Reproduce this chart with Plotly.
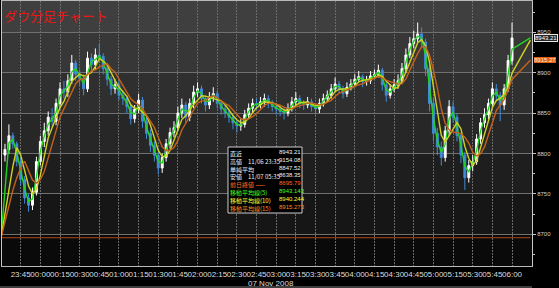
import pandas as pd
import plotly.graph_objects as go

# ---------------- data ----------------
prev_close = 8695.79
first_open = 8798
closes = [8805, 8822, 8812, 8790, 8768, 8745, 8736, 8752, 8790, 8815,
          8828, 8845, 8840, 8862, 8880, 8876, 8890, 8912, 8898, 8893,
          8880, 8918, 8910, 8922, 8920, 8905, 8892, 8880, 8885, 8872,
          8868, 8858, 8843, 8855, 8866, 8840, 8825, 8810, 8798, 8782,
          8795, 8812, 8826, 8832, 8850, 8860, 8845, 8862, 8876, 8880,
          8868, 8860, 8870, 8874, 8862, 8855, 8850, 8845, 8838, 8834,
          8836, 8848, 8856, 8862, 8860, 8864, 8868, 8862, 8858, 8855,
          8852, 8850, 8856, 8864, 8868, 8862, 8860, 8864, 8858, 8855,
          8862, 8868, 8872, 8880, 8886, 8880, 8874, 8882, 8886, 8892,
          8895, 8889, 8890, 8896, 8898, 8903, 8885, 8872, 8880, 8885,
          8890, 8905, 8922, 8936, 8942, 8948, 8938, 8905, 8862, 8825,
          8808, 8795, 8828, 8858, 8845, 8822, 8798, 8770, 8785, 8790,
          8818, 8838, 8848, 8862, 8880, 8872, 8860, 8880, 8915, 8943]
highs = [8812, 8836, 8826, 8815, 8795, 8772, 8750, 8758, 8796, 8822,
         8838, 8852, 8856, 8868, 8888, 8890, 8898, 8922, 8916, 8904,
         8898, 8926, 8924, 8930, 8936, 8924, 8910, 8896, 8892, 8890,
         8878, 8872, 8862, 8860, 8874, 8870, 8846, 8830, 8815, 8802,
         8800, 8818, 8832, 8840, 8858, 8868, 8864, 8868, 8884, 8888,
         8884, 8872, 8876, 8882, 8878, 8866, 8860, 8856, 8850, 8842,
         8844, 8854, 8862, 8868, 8868, 8870, 8874, 8872, 8866, 8862,
         8860, 8858, 8862, 8870, 8876, 8872, 8866, 8870, 8868, 8862,
         8868, 8874, 8878, 8886, 8894, 8890, 8884, 8888, 8892, 8898,
         8902, 8898, 8896, 8902, 8904, 8910, 8906, 8888, 8886, 8892,
         8898, 8912, 8930, 8944, 8952, 8962, 8956, 8942, 8910, 8868,
         8832, 8815, 8834, 8866, 8864, 8850, 8826, 8802, 8792, 8798,
         8824, 8844, 8856, 8868, 8888, 8886, 8876, 8886, 8922, 8962]
lows = [8790, 8800, 8806, 8784, 8760, 8738, 8728, 8730, 8748, 8785,
        8808, 8822, 8832, 8835, 8856, 8868, 8870, 8886, 8890, 8884,
        8872, 8876, 8902, 8904, 8912, 8898, 8884, 8872, 8874, 8866,
        8860, 8850, 8836, 8838, 8850, 8832, 8818, 8802, 8790, 8774,
        8776, 8790, 8806, 8820, 8828, 8844, 8838, 8840, 8856, 8870,
        8862, 8852, 8855, 8864, 8856, 8848, 8844, 8838, 8830, 8826,
        8828, 8832, 8844, 8850, 8854, 8856, 8858, 8856, 8852, 8848,
        8846, 8842, 8846, 8852, 8860, 8856, 8854, 8856, 8852, 8848,
        8850, 8858, 8864, 8868, 8876, 8874, 8868, 8870, 8878, 8882,
        8888, 8882, 8884, 8886, 8892, 8894, 8878, 8864, 8868, 8876,
        8880, 8886, 8900, 8918, 8930, 8938, 8930, 8896, 8852, 8815,
        8798, 8785, 8790, 8822, 8838, 8815, 8788, 8755, 8764, 8778,
        8786, 8812, 8832, 8842, 8856, 8866, 8840, 8854, 8876, 8910]
opens = [first_open] + closes[:-1]

session_open = "2008-11-07 23:30"
times = pd.date_range("2008-11-07 23:33", periods=len(closes), freq="3min")
end_time = "2008-11-08 06:14"
x_ticks = pd.date_range("2008-11-07 23:45", "2008-11-08 06:00", freq="15min")

ma_names = ["移動平均線(5)", "移動平均線(10)", "移動平均線(15)"]
ma_windows = [2, 4, 6]          # 3-minute bars
ma_final = [8943.143, 8940.244, 8915.273]
ma_colors = ["#22d422", "#cdd41e", "#c4621c"]

y_ticks = [8700, 8750, 8800, 8850, 8900, 8950]
band_edges = [8600, 8700, 8750, 8800, 8850, 8900, 8950, 9050]
band_colors = ["#0a0a0a", "#161616", "#1e1e1e", "#272727", "#2f2f2f", "#373737", "#3f3f3f"]

summary_labels = ["直近", "高値　11/06 23:35", "単純平均", "安値　11/07 05:35",
                  "前日終値 ——", "移動平均線(5)", "移動平均線(10)", "移動平均線(15)"]
summary_values = ["8943.21", "9154.08", "8847.52", "8638.35",
                  "8695.79", "8943.143", "8940.244", "8915.273"]
summary_colors = ["#f0f0f0", "#f0f0f0", "#f0f0f0", "#f0f0f0",
                  "#ff6a22", "#44ff22", "#ffff33", "#ff8a22"]


def sma(vals, n, pad):
    padded = [pad] * (n - 1) + list(vals)
    return [sum(padded[i:i + n]) / n for i in range(len(vals))]


fig = go.Figure()

# previous close line
fig.add_trace(go.Scatter(x=[session_open, end_time], y=[prev_close, prev_close],
                         mode="lines", line=dict(color="#b0481a", width=1),
                         hoverinfo="skip", showlegend=False))

fig.add_trace(go.Candlestick(
    x=times, open=opens, high=highs, low=lows, close=closes,
    increasing=dict(line=dict(color="#ffffff", width=1), fillcolor="#ffffff"),
    decreasing=dict(line=dict(color="#3f8cd8", width=1), fillcolor="#3f8cd8"),
    whiskerwidth=0, showlegend=False))

for name, w, fin, col in zip(ma_names, ma_windows, ma_final, ma_colors):
    xs = [session_open] + list(times) + [end_time]
    ys = [prev_close] + sma(closes, w, prev_close) + [fin]
    fig.add_trace(go.Scatter(x=xs, y=ys, mode="lines", name=name,
                             line=dict(color=col, width=1.4), showlegend=False))

# background bands
shapes = []
for lo, hi, c in zip(band_edges[:-1], band_edges[1:], band_colors):
    shapes.append(dict(type="rect", xref="paper", x0=0, x1=1, yref="y", y0=lo, y1=hi,
                       fillcolor=c, line=dict(width=0), layer="below"))

W, H = 559, 288
L, R, T, B = 2, 27, 1, 22
pw, ph = W - L - R, H - T - B


def px(x):
    return (x - L) / pw


def py(y):
    return (H - B - y) / ph


# summary box
shapes.append(dict(type="rect", xref="paper", yref="paper", x0=px(228), x1=px(302),
                   y0=py(213), y1=py(147), fillcolor="#000000",
                   line=dict(color="#cfcfcf", width=1), layer="above"))
shapes.append(dict(type="line", xref="paper", yref="paper", x0=px(0), x1=px(532),
                   y0=py(287), y1=py(287), line=dict(color="#7a7a7a", width=1)))

left_txt = "<br>".join(f"<span style='color:{c}'>{t}</span>"
                       for t, c in zip(summary_labels, summary_colors))
right_txt = "<br>".join(f"<span style='color:{c}'>{t}</span>"
                        for t, c in zip(summary_values, summary_colors))

annotations = [
    dict(text="ダウ分足チャート", xref="paper", yref="paper", x=px(3), y=py(16),
         xanchor="left", yanchor="middle", showarrow=False, borderpad=0,
         font=dict(family="Noto Sans CJK JP", size=13, color="#f01414")),
    dict(text=left_txt, xref="paper", yref="paper", x=px(229), y=py(147.5),
         xanchor="left", yanchor="top", align="left", showarrow=False, borderpad=0,
         font=dict(family="Noto Sans CJK JP", size=6, color="#ffffff")),
    dict(text=right_txt, xref="paper", yref="paper", x=px(278), y=py(147.5),
         xanchor="left", yanchor="top", align="left", showarrow=False, borderpad=0,
         font=dict(family="Liberation Sans", size=6, color="#ffffff")),
    dict(text="07 Nov 2008", xref="paper", yref="paper", x=px(271), y=py(283),
         xanchor="center", yanchor="middle", showarrow=False,
         font=dict(family="Liberation Sans", size=8, color="#d8d8d8")),
    dict(text=summary_values[0], xref="paper", yref="y", x=1, y=float(summary_values[0]),
         xanchor="left", yanchor="middle", xshift=2, showarrow=False, borderpad=0,
         bgcolor="#262626", bordercolor="#e8e8e8", borderwidth=1,
         font=dict(family="Liberation Sans", size=6, color="#ffffff")),
    dict(text=summary_values[7][:-1], xref="paper", yref="y", x=1, y=float(summary_values[7]),
         xanchor="left", yanchor="middle", xshift=2, showarrow=False, borderpad=0,
         bgcolor="#e0601a", borderwidth=0,
         font=dict(family="Liberation Sans", size=6, color="#ffe8d8")),
]

fig.update_layout(
    width=W, height=H, margin=dict(l=L, r=R, t=T, b=B),
    paper_bgcolor="#000000", plot_bgcolor="#0a0a0a",
    shapes=shapes, annotations=annotations, showlegend=False,
    xaxis=dict(type="date", range=["2008-11-07 23:30:44", "2008-11-08 06:15:15"],
               rangeslider=dict(visible=False), tickformat="%H:%M",
               tickmode="array", tickvals=list(x_ticks), tickangle=0,
               tickfont=dict(family="Liberation Sans", size=8, color="#dcdcdc"),
               showgrid=True, gridcolor="#6a6a6a", griddash="2px,1px", gridwidth=1,
               showline=True, mirror=True, linecolor="#b8b8b8", linewidth=1,
               ticks="", zeroline=False),
    yaxis=dict(range=[8660.8, 8988.7], side="right", tickvals=y_ticks,
               ticktext=[str(v) for v in y_ticks],
               tickfont=dict(family="Liberation Sans", size=6, color="#d0d0d0"),
               ticks="outside", ticklen=3, tickcolor="#c0c0c0",
               minor=dict(dtick=25, tick0=8675, ticks="outside", ticklen=2,
                          tickcolor="#c0c0c0", showgrid=False),
               showgrid=True, gridcolor="#707070", gridwidth=1,
               showline=True, mirror=True, linecolor="#c8c8c8", linewidth=1,
               zeroline=False),
)

fig.write_html("out.html")
